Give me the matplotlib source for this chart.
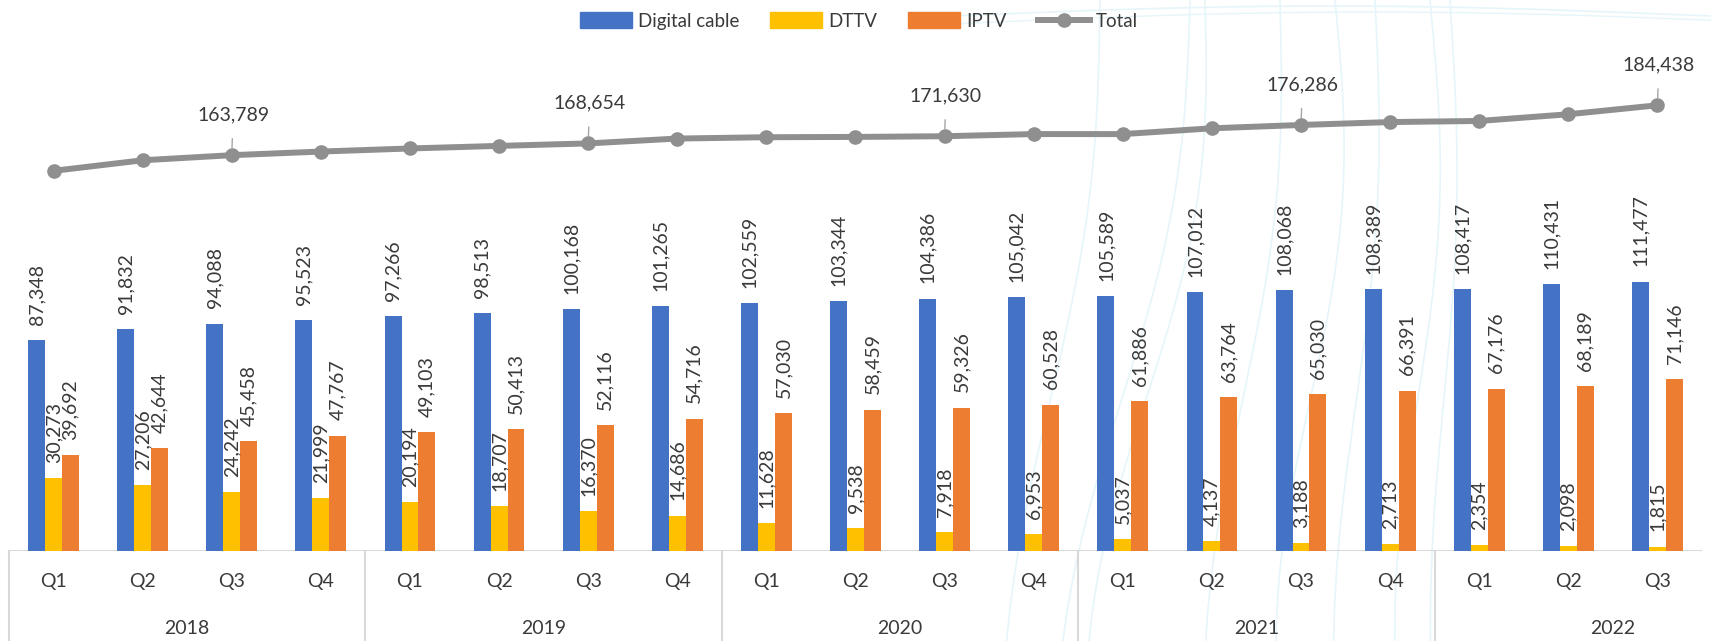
import numpy as np
import matplotlib
matplotlib.use("Agg")
import matplotlib.pyplot as plt
import matplotlib.transforms as mtransforms
from matplotlib.patches import Patch
from matplotlib.lines import Line2D

plt.rcParams['font.family'] = ['Lato', 'DejaVu Sans']

years = ["2018", "2019", "2020", "2021", "2022"]
quarters = ["Q1", "Q2", "Q3", "Q4"] * 4 + ["Q1", "Q2", "Q3"]

digital_cable = [87348, 91832, 94088, 95523, 97266, 98513, 100168, 101265,
                 102559, 103344, 104386, 105042, 105589, 107012, 108068, 108389,
                 108417, 110431, 111477]
dttv = [30273, 27206, 24242, 21999, 20194, 18707, 16370, 14686,
        11628, 9538, 7918, 6953, 5037, 4137, 3188, 2713,
        2354, 2098, 1815]
iptv = [39692, 42644, 45458, 47767, 49103, 50413, 52116, 54716,
        57030, 58459, 59326, 60528, 61886, 63764, 65030, 66391,
        67176, 68189, 71146]
total = [157313, 161682, 163789, 165289, 166563, 167633, 168654, 170667,
         171217, 171341, 171630, 172523, 172512, 174913, 176286, 177493,
         177947, 180718, 184438]
total_labelled = [2, 6, 10, 14, 18]  # only the Q3 points carry a label

BLUE, YELLOW, ORANGE, GREY = '#4472C4', '#FFC000', '#ED7D31', '#8F8F8F'
TXT = '#3A3A3A'
AXIS = '#D9D9D9'

W, H = 1711, 641
fig = plt.figure(figsize=(W / 100, H / 100), dpi=100)

# faint decorative waves in the background (right half)
bg = fig.add_axes([0, 0, 1, 1], zorder=-5)
bg.set_xlim(0, W)
bg.set_ylim(H, 0)
bg.axis('off')
yy = np.linspace(0, H, 200)
for x0, dx, amp in [(1190, -110, 18), (1205, -95, 22), (1280, -60, 15), (1335, -40, 20),
                    (1375, -30, 12), (1430, -20, 16), (1450, -10, 10), (1100, -80, 14)]:
    bg.plot(x0 + dx * yy / H + amp * np.sin(yy / H * np.pi * 1.6), yy,
            color='#E6F5F9', lw=1.2)
xx = np.linspace(950, W, 200)
bg.plot(xx, 16 - 10 * np.sin((xx - 950) / 761 * np.pi), color='#E6F5F9', lw=1.2)
bg.plot(xx, 24 - 12 * np.sin((xx - 950) / 761 * np.pi * 0.9), color='#E6F5F9', lw=1.0)

left, right, base = 9, 1702, 551
ax = fig.add_axes([left / W, (H - base) / H, (right - left) / W, base / H])
ax.patch.set_alpha(0)
n = len(quarters)
x = np.arange(n)
bw = 0.19
ax.bar(x - bw, digital_cable, bw, color=BLUE, label='Digital cable', zorder=2)
ax.bar(x, dttv, bw, color=YELLOW, label='DTTV', zorder=2)
ax.bar(x + bw, iptv, bw, color=ORANGE, label='IPTV', zorder=2)
ax.plot(x, total, color=GREY, lw=4.3, marker='o', ms=9.5, label='Total', zorder=3)

ax.set_xlim(-0.5, n - 0.5)
ax.set_ylim(0, 228000)
ax.axis('off')
ax.axhline(0, color=AXIS, lw=1.5, zorder=1)

for off, vals in [(-bw, digital_cable), (0, dttv), (bw, iptv)]:
    for xi, v in zip(x, vals):
        ax.annotate(f"{v:,}", (xi + off, v), xytext=(0, 11), textcoords='offset points',
                    rotation=90, ha='center', va='bottom', fontsize=14, color=TXT)

for i in total_labelled:
    ax.annotate(f"{total[i]:,}", (x[i], total[i]), xytext=(1, 29), textcoords='offset points',
                ha='center', va='center', fontsize=14, color=TXT,
                arrowprops=dict(arrowstyle='-', color='#A6A6A6', lw=1,
                                shrinkA=9, shrinkB=5))

# two-level category axis
trans = mtransforms.blended_transform_factory(ax.transData, ax.transAxes)
for xi, q in zip(x, quarters):
    ax.text(xi, -0.056, q, transform=trans, ha='center', va='center', fontsize=14, color=TXT)
for k, yr in enumerate(years):
    ax.text(4 * k + 1.5, -0.14, yr, transform=trans, ha='center', va='center',
            fontsize=14, color=TXT, clip_on=False)
for sep in [-0.5, 3.5, 7.5, 11.5, 15.5]:
    ax.add_line(Line2D([sep, sep], [0, -0.17], transform=trans, color=AXIS,
                       lw=1.5, clip_on=False))

handles = [Patch(color=BLUE), Patch(color=YELLOW), Patch(color=ORANGE),
           Line2D([], [], color=GREY, lw=4.3, marker='o', ms=9.5)]
fig.legend(handles, ['Digital cable', 'DTTV', 'IPTV', 'Total'], loc='center',
           bbox_to_anchor=(0.502, 0.967), ncol=4, frameon=False, fontsize=13.5,
           labelcolor=TXT, handlelength=2.77, handleheight=0.93,
           handletextpad=0.32, columnspacing=1.65, borderaxespad=0, borderpad=0)

fig.savefig('out.png', dpi=100)
